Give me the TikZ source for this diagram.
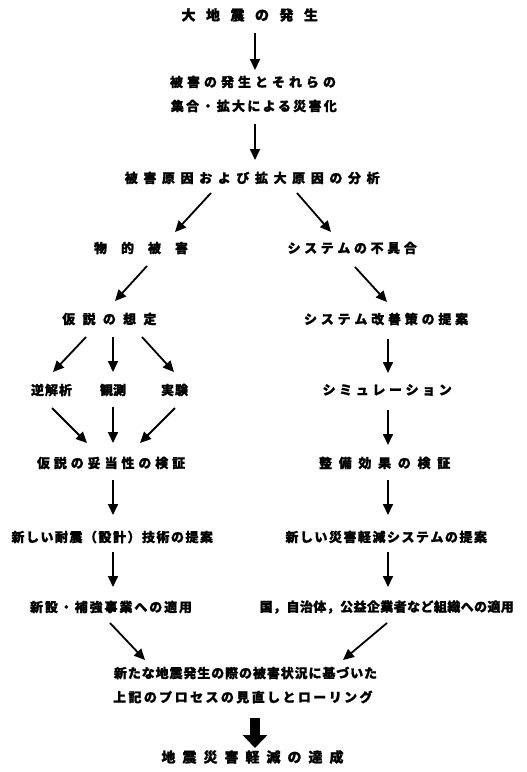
\documentclass[tikz,border=0pt]{standalone}
\usepackage{fontspec}
\setmainfont{Noto Sans CJK JP}[BoldFeatures={FakeBold=1.2}]
\usetikzlibrary{arrows.meta,calc}
\newcommand\lsp[2]{\def\lsamt{#1}\lsloop#2\relax\hspace{-#1}}
\def\lsloop#1{\ifx#1\relax\else#1\hspace{\lsamt}\expandafter\lsloop\fi}
\tikzset{
  lbl/.style={inner sep=0pt, font=\bfseries\fontsize{13}{13}\selectfont},
  big/.style={inner sep=0pt, font=\bfseries\fontsize{14}{14}\selectfont},
  arr/.style={line width=1.8pt, -{Triangle[length=11pt,width=10pt]}},
  fat/.style={line width=10pt, -{Triangle[length=13pt,width=24pt]}}
}
\begin{document}
\begin{tikzpicture}[x=1pt,y=-1pt]
\useasboundingbox[fill=white] (0,0) rectangle (527,772);
\node[big] (n1) at (255,15) {\lsp{10.5pt}{大地震の発生}};
\node[lbl] (n2a) at (255,82) {\lsp{4pt}{被害の発生とそれらの}};
\node[lbl] (n2b) at (255,106) {\lsp{2.3pt}{集合・拡大による災害化}};
\node[lbl] (n3) at (255,178) {\lsp{5.6pt}{被害原因および拡大原因の分析}};
\node[lbl] (n4L) at (148,248) {\lsp{14pt}{物的被害}};
\node[lbl] (n4R) at (354,248) {\lsp{3.6pt}{システムの不具合}};
\node[lbl] (n5L) at (113,319) {\lsp{7.3pt}{仮説の想定}};
\node[lbl] (n5R) at (388,319) {\lsp{3.8pt}{システム改善策の提案}};
\node[lbl] (n6a) at (52,390) {\lsp{1pt}{逆解析}};
\node[lbl] (n6b) at (113,390) {\lsp{0pt}{観測}};
\node[lbl] (n6c) at (175,390) {\lsp{1pt}{実験}};
\node[lbl] (n6R) at (389,390) {\lsp{3.6pt}{シミュレーション}};
\node[lbl] (n7L) at (113,463) {\lsp{3.9pt}{仮説の妥当性の検証}};
\node[lbl] (n7R) at (388,463) {\lsp{6.7pt}{整備効果の検証}};
\node[lbl] (n8L) at (113,537) {\lsp{1.5pt}{新しい耐震（設計）技術の提案}};
\node[lbl] (n8R) at (387,537) {\lsp{1.5pt}{新しい災害軽減システムの提案}};
\node[lbl] (n9L) at (112,607) {\lsp{1.9pt}{新設・補強事業への適用}};
\node[lbl] (n9R) at (387,607) {\lsp{0.4pt}{国，自治体，公益企業者など組織への適用}};
\node[lbl] (n10a) at (246,673) {\lsp{0.9pt}{新たな地震発生の際の被害状況に基づいた}};
\node[lbl] (n10b) at (244,697) {\lsp{2.4pt}{上記のプロセスの見直しとローリング}};
\node[big] (n11) at (256,757) {\lsp{7pt}{地震災害軽減の達成}};
% arrows
\draw[arr] ($(n1)+(0,18)$) -- ($(n2a)+(0,-12)$);
\draw[arr] ($(n2b)+(0,18)$) -- ($(n3)+(0,-18)$);
\draw[arr] ($(n3)+(-44,15)$) -- ($(n4L)+(27,-16)$);
\draw[arr] ($(n3)+(42,15)$) -- ($(n4R)+(-23,-16)$);
\draw[arr] ($(n4L)+(-1,18)$) -- ($(n5L)+(2,-18)$);
\draw[arr] ($(n4R)+(1,19)$) -- ($(n5R)+(-1,-17)$);
\draw[arr] ($(n5L)+(-27,18)$) -- ($(n6a)+(1,-18)$);
\draw[arr] ($(n5L)+(0,18)$) -- ($(n6b)+(0,-18)$);
\draw[arr] ($(n5L)+(29,18)$) -- ($(n6c)+(-1,-18)$);
\draw[arr] ($(n5R)+(0,20)$) -- ($(n6R)+(-1,-17)$);
\draw[arr] ($(n6a)+(0,18)$) -- ($(n7L)+(-26,-20)$);
\draw[arr] ($(n6b)+(0,17)$) -- ($(n7L)+(0,-20)$);
\draw[arr] ($(n6c)+(0,18)$) -- ($(n7L)+(27,-20)$);
\draw[arr] ($(n6R)+(-1,20)$) -- ($(n7R)+(0,-18)$);
\draw[arr] ($(n7L)+(0,17)$) -- ($(n8L)+(0,-22)$);
\draw[arr] ($(n7R)+(0,17)$) -- ($(n8R)+(1,-22)$);
\draw[arr] ($(n8L)+(0,15)$) -- ($(n9L)+(1,-20)$);
\draw[arr] ($(n8R)+(1,15)$) -- ($(n9R)+(1,-20)$);
\draw[arr] ($(n9L)+(-2,16)$) -- ($(n10a)+(-101,-13)$);
\draw[arr] ($(n9R)+(0,16)$) -- ($(n10a)+(97,-13)$);
\draw[fat] ($(n11)+(-1,-39)$) -- ($(n11)+(-1,-9)$);
\end{tikzpicture}
\end{document}
